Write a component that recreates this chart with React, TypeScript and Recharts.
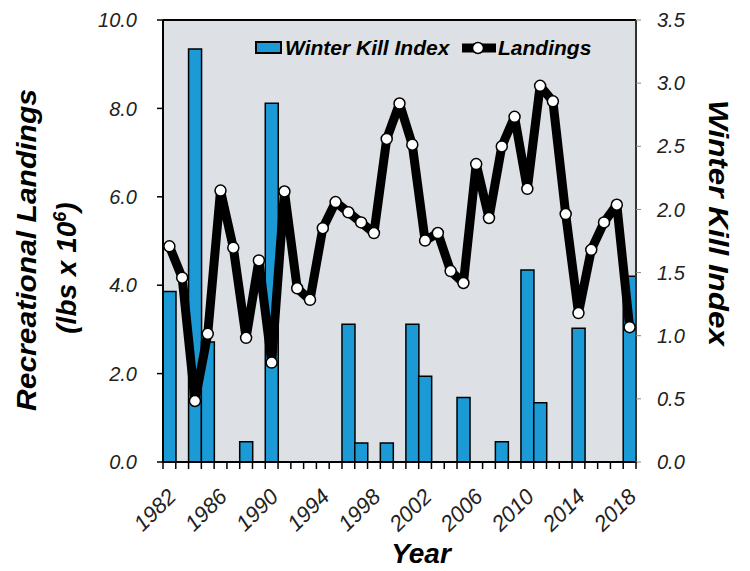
import {
  Bar,
  CartesianGrid,
  ComposedChart,
  Legend,
  Line,
  ReferenceLine,
  XAxis,
  YAxis,
} from "recharts";

const years = [
  1982, 1983, 1984, 1985, 1986, 1987, 1988, 1989, 1990, 1991, 1992, 1993, 1994,
  1995, 1996, 1997, 1998, 1999, 2000, 2001, 2002, 2003, 2004, 2005, 2006, 2007,
  2008, 2009, 2010, 2011, 2012, 2013, 2014, 2015, 2016, 2017, 2018,
];

// winter kill index (right axis), null = no bar
const winterKill = [
  1.35, null, 3.27, 0.95, null, null, 0.16, null, 2.84, null, null, null, null,
  null, 1.09, 0.15, null, 0.15, null, 1.09, 0.68, null, null, 0.51, null, null,
  0.16, null, 1.52, 0.47, null, null, 1.06, null, null, null, 1.47,
];

// recreational landings, lbs x 10^6 (left axis)
const landings = [
  4.88, 4.17, 1.38, 2.9, 6.14, 4.85, 2.81, 4.56, 2.25, 6.12, 3.93, 3.67, 5.29,
  5.88, 5.65, 5.42, 5.18, 7.31, 8.11, 7.18, 5.01, 5.18, 4.32, 4.05, 6.74, 5.52,
  7.14, 7.81, 6.18, 8.51, 8.16, 5.61, 3.37, 4.8, 5.42, 5.82, 3.05,
];

const landingsTicks = [0, 2, 4, 6, 8, 10];
const killTicks = [0, 0.5, 1, 1.5, 2, 2.5, 3, 3.5];
const yearLabels = [1982, 1986, 1990, 1994, 1998, 2002, 2006, 2010, 2014, 2018];

const data = years.map((year, i) => ({
  year,
  kill: winterKill[i],
  landings: landings[i],
}));

const FONT = "'Liberation Sans', Arial, sans-serif";
const BLUE = "#1b9ad6";
const PLOT_W = 473;
const BAND = PLOT_W / years.length;

function YearTick(props: any) {
  const { x, y, payload, index } = props;
  const showLabel = yearLabels.includes(payload.value);
  return (
    <g>
      <line x1={x - BAND / 2} x2={x - BAND / 2} y1={y} y2={y + 7} stroke="#000" strokeWidth={1.5} />
      {index === years.length - 1 && (
        <line x1={x + BAND / 2} x2={x + BAND / 2} y1={y} y2={y + 7} stroke="#000" strokeWidth={1.5} />
      )}
      {showLabel && (
        <text
          transform={`translate(${x + 8},${y + 36}) rotate(-45)`}
          textAnchor="end"
          fontFamily={FONT}
          fontStyle="italic"
          fontSize={22}
          fill="#222"
        >
          {payload.value}
        </text>
      )}
    </g>
  );
}

function LegendBox() {
  return (
    <svg width={750} height={70} style={{ display: "block" }}>
      <rect x={256} y={42} width={25} height={11} fill={BLUE} stroke="#000" strokeWidth={2} />
      <text x={285} y={55} fontFamily={FONT} fontWeight="bold" fontStyle="italic" fontSize={21} fill="#000">
        Winter Kill Index
      </text>
      <line x1={462} x2={496} y1={48} y2={48} stroke="#000" strokeWidth={9} />
      <circle cx={478} cy={48} r={5.5} fill="#fff" stroke="#000" strokeWidth={1.5} />
      <text x={498} y={55} fontFamily={FONT} fontWeight="bold" fontStyle="italic" fontSize={21} fill="#000">
        Landings
      </text>
    </svg>
  );
}

function LeftTitle() {
  return (
    <g fontFamily={FONT} fontWeight="bold" fontStyle="italic" fill="#000">
      <text
        transform="translate(36,250) rotate(-90)"
        textAnchor="middle"
        fontSize={28}
        textLength={322}
        lengthAdjust="spacingAndGlyphs"
      >
        Recreational Landings
      </text>
      <text transform="translate(76,268) rotate(-90)" textAnchor="middle" fontSize={28}>
        (lbs x 10
        <tspan dy={-10} fontSize={18}>6</tspan>
        <tspan dy={10}>)</tspan>
      </text>
    </g>
  );
}

function RightTitle() {
  return (
    <text
      transform="translate(709,223) rotate(90)"
      textAnchor="middle"
      fontFamily={FONT}
      fontWeight="bold"
      fontStyle="italic"
      fontSize={28}
      fill="#000"
      textLength={246}
      lengthAdjust="spacingAndGlyphs"
    >
      Winter Kill Index
    </text>
  );
}

function XTitle() {
  return (
    <text
      x={421}
      y={563}
      textAnchor="middle"
      fontFamily={FONT}
      fontWeight="bold"
      fontStyle="italic"
      fontSize={28}
      fill="#000"
    >
      Year
    </text>
  );
}

export default function App() {
  return (
    <div style={{ position: "absolute", left: 0, top: 0, width: 750, height: 571, background: "#fff" }}>
      <ComposedChart
        width={750}
        height={571}
        data={data}
        margin={{ top: 20, right: 0, bottom: 0, left: 0 }}
        barCategoryGap={0}
        barGap={0}
      >
        <CartesianGrid horizontal={false} vertical={false} fill="#dde0e4" />
        <XAxis
          dataKey="year"
          xAxisId="x"
          height={109}
          interval={0}
          tickSize={0}
          tickMargin={0}
          tickLine={false}
          axisLine={{ stroke: "#000", strokeWidth: 2 }}
          tick={<YearTick />}
          label={{ content: () => <XTitle /> }}
        />
        <YAxis
          yAxisId="left"
          orientation="left"
          width={163}
          domain={[0, 10]}
          ticks={landingsTicks}
          tickFormatter={(v: number) => v.toFixed(1)}
          tickSize={6}
          tickMargin={20}
          axisLine={{ stroke: "#000", strokeWidth: 2 }}
          tickLine={{ stroke: "#000", strokeWidth: 1.5 }}
          tick={{ fontFamily: FONT, fontStyle: "italic", fontSize: 20, fill: "#222" }}
          label={{ content: () => <LeftTitle /> }}
        />
        <YAxis
          yAxisId="right"
          orientation="right"
          width={114}
          domain={[0, 3.5]}
          ticks={killTicks}
          tickFormatter={(v: number) => v.toFixed(1)}
          tickSize={5}
          tickMargin={16}
          axisLine={{ stroke: "#333", strokeWidth: 2 }}
          tickLine={{ stroke: "#888", strokeWidth: 1 }}
          tick={{ fontFamily: FONT, fontStyle: "italic", fontSize: 20, fill: "#222" }}
          label={{ content: () => <RightTitle /> }}
        />
        <ReferenceLine yAxisId="left" xAxisId="x" y={10} stroke="#000" strokeWidth={2} />
        <Legend
          layout="horizontal"
          verticalAlign="middle"
          align="center"
          wrapperStyle={{ top: 0, left: 0, width: 750, height: 70 }}
          content={() => <LegendBox />}
        />
        <Bar
          dataKey="kill"
          xAxisId="x"
          yAxisId="right"
          fill={BLUE}
          stroke="#000"
          strokeWidth={1.5}
          isAnimationActive={false}
        />
        <Line
          dataKey="landings"
          xAxisId="x"
          yAxisId="left"
          type="linear"
          stroke="#000"
          strokeWidth={9}
          strokeLinejoin="round"
          dot={{ r: 5.5, fill: "#fff", stroke: "#000", strokeWidth: 1.5 }}
          isAnimationActive={false}
        />
      </ComposedChart>
    </div>
  );
}
